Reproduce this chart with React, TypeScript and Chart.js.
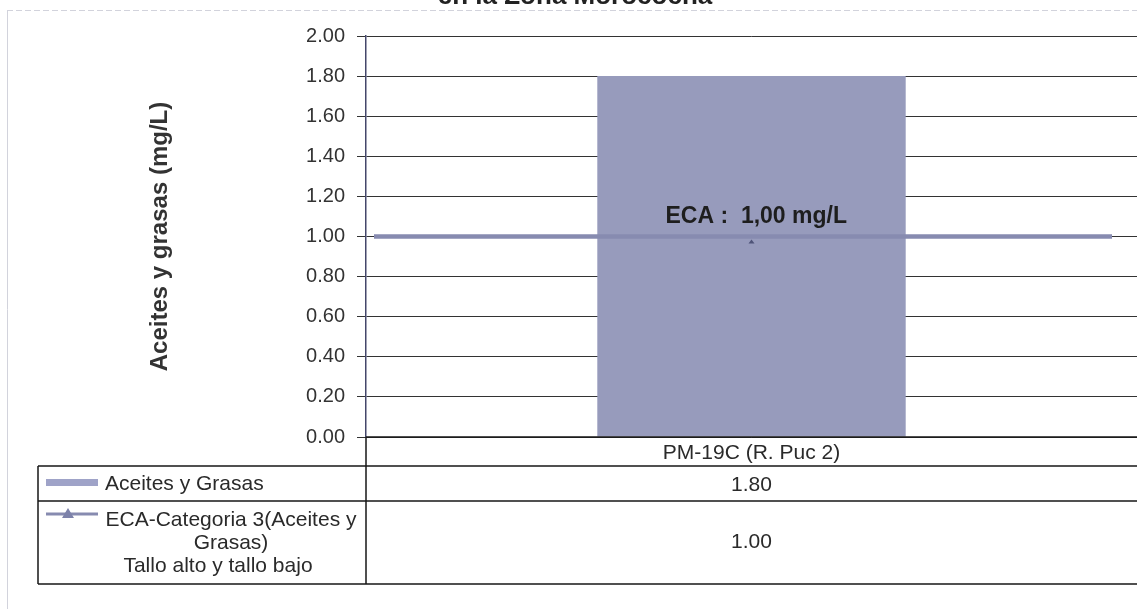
import React, { useEffect, useRef } from 'react';
import { Chart, registerables } from 'chart.js';

Chart.register(...registerables);

const TITLE = 'en la Zona Morococha';
const CATEGORIES = ['PM-19C (R. Puc 2)'];
const SERIES_NAME = 'Aceites y Grasas';
const ACEITES = [1.8];
const ECA_NAME_LINES = ['ECA-Categoria 3(Aceites y', 'Grasas)', 'Tallo alto y tallo bajo'];
const ECA = [1.0];
const ECA_LABEL = 'ECA :  1,00 mg/L';
const Y_TITLE = 'Aceites y grasas (mg/L)';
const Y_MIN = 0;
const Y_MAX = 2;
const Y_STEP = 0.2;

const FONT = "'Liberation Sans', Arial, sans-serif";
const BAR_COLOR = '#979bbc';
const ECA_COLOR = '#878bb0';

const overlay = {
  id: 'overlay',
  beforeDraw(chart: any) {
    const ctx = chart.ctx;
    ctx.save();
    ctx.strokeStyle = '#d2d3dc';
    ctx.lineWidth = 1;
    ctx.beginPath();
    ctx.moveTo(7.5, 10);
    ctx.lineTo(7.5, chart.height);
    ctx.stroke();
    ctx.setLineDash([6, 3]);
    ctx.beginPath();
    ctx.moveTo(7, 10.5);
    ctx.lineTo(chart.width, 10.5);
    ctx.stroke();
    ctx.setLineDash([]);
    ctx.fillStyle = '#222';
    ctx.font = `bold 26px ${FONT}`;
    ctx.textAlign = 'center';
    ctx.textBaseline = 'alphabetic';
    ctx.fillText(TITLE, 575, 4);
    ctx.restore();
  },
  afterDatasetsDraw(chart: any) {
    const ctx = chart.ctx;
    const ca = chart.chartArea;
    const ys = chart.scales.y;
    const xs = chart.scales.x;
    const yv = ys.getPixelForValue(ECA[0]);
    const xc = xs.getPixelForValue(0);
    ctx.save();
    ctx.strokeStyle = ECA_COLOR;
    ctx.lineWidth = 4.5;
    ctx.beginPath();
    ctx.moveTo(ca.left + 8, yv);
    ctx.lineTo(ca.right - 25, yv);
    ctx.stroke();
    ctx.fillStyle = '#4f5478';
    ctx.beginPath();
    ctx.moveTo(xc - 3, yv + 7);
    ctx.lineTo(xc + 3, yv + 7);
    ctx.lineTo(xc, yv + 3);
    ctx.closePath();
    ctx.fill();
    ctx.fillStyle = '#1e1e1e';
    ctx.font = `bold 23px ${FONT}`;
    ctx.textAlign = 'left';
    ctx.textBaseline = 'alphabetic';
    ctx.fillText(ECA_LABEL, xc - 86, yv - 14);
    ctx.restore();
  },
  afterDraw(chart: any) {
    const ctx = chart.ctx;
    const ca = chart.chartArea;
    const xs = chart.scales.x;
    const xc = xs.getPixelForValue(0);
    const L = 38;
    const R = chart.width;
    const D = ca.left;
    const T0 = ca.bottom;
    const T1 = 466;
    const T2 = 501;
    const T3 = 584;
    ctx.save();
    ctx.strokeStyle = '#161616';
    ctx.lineWidth = 1.5;
    const h = (y: number, a: number, b: number) => {
      ctx.beginPath();
      ctx.moveTo(a, y);
      ctx.lineTo(b, y);
      ctx.stroke();
    };
    const v = (x: number, a: number, b: number) => {
      ctx.beginPath();
      ctx.moveTo(x, a);
      ctx.lineTo(x, b);
      ctx.stroke();
    };
    h(T0, D, R);
    h(T1, L, R);
    h(T2, L, R);
    h(T3, L, R);
    v(D, T0, T3);
    v(L, T1, T3);

    ctx.fillStyle = '#2a2a2a';
    ctx.font = `21px ${FONT}`;
    ctx.textAlign = 'center';
    ctx.textBaseline = 'middle';
    ctx.fillText(CATEGORIES[0], xc, (T0 + T1) / 2 + 2);
    ctx.fillText(ACEITES[0].toFixed(2), xc, (T1 + T2) / 2 + 2);
    ctx.fillText(ECA[0].toFixed(2), xc, (T2 + T3) / 2);

    ctx.fillStyle = '#9fa3c8';
    ctx.fillRect(46, 479, 52, 7);
    ctx.strokeStyle = ECA_COLOR;
    ctx.lineWidth = 3;
    h(514, 46, 98);
    ctx.fillStyle = '#7d82aa';
    ctx.beginPath();
    ctx.moveTo(62, 518);
    ctx.lineTo(74, 518);
    ctx.lineTo(68, 508);
    ctx.closePath();
    ctx.fill();

    ctx.fillStyle = '#2a2a2a';
    ctx.textAlign = 'left';
    ctx.fillText(SERIES_NAME, 105, (T1 + T2) / 2 + 1);
    ctx.textAlign = 'center';
    ctx.fillText(ECA_NAME_LINES[0], 231, 520);
    ctx.fillText(ECA_NAME_LINES[1], 231, 543);
    ctx.fillText(ECA_NAME_LINES[2], 218, 566);
    ctx.restore();
  },
};

export default function App() {
  const ref = useRef<HTMLCanvasElement>(null);
  useEffect(() => {
    if (!ref.current) return;
    const chart = new Chart(ref.current, {
      type: 'bar',
      data: {
        labels: CATEGORIES,
        datasets: [
          {
            label: SERIES_NAME,
            data: ACEITES,
            backgroundColor: BAR_COLOR,
            borderWidth: 0,
            barPercentage: 0.4,
            categoryPercentage: 1,
          },
        ],
      },
      options: {
        animation: false,
        responsive: false,
        layout: { padding: { left: 0, right: 0, top: 36, bottom: 172 } },
        plugins: {
          legend: { display: false },
          tooltip: { enabled: false },
        },
        scales: {
          x: { display: false },
          y: {
            min: Y_MIN,
            max: Y_MAX,
            afterFit: (scale: any) => {
              scale.width = 366;
            },
            border: { display: true, color: '#44476a', width: 1.5 },
            grid: { color: '#333333', lineWidth: 1, tickLength: 9, drawTicks: true },
            ticks: {
              stepSize: Y_STEP,
              padding: 12,
              color: '#333',
              font: { family: FONT, size: 20 },
              callback: (val: any) => Number(val).toFixed(2),
            },
            title: {
              display: true,
              text: Y_TITLE,
              color: '#333',
              font: { family: FONT, size: 24, weight: 'bold' },
              padding: { top: 146, bottom: 0 },
            },
          },
        },
      },
      plugins: [overlay],
    });
    return () => chart.destroy();
  }, []);
  return (
    <div style={{ position: 'fixed', left: 0, top: 0, width: 1137, height: 609, background: '#fff' }}>
      <canvas ref={ref} width={1137} height={609} />
    </div>
  );
}
